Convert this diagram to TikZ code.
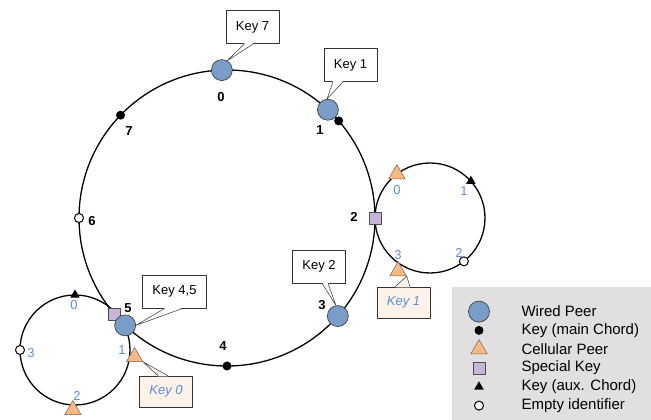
\documentclass[tikz,border=0pt]{standalone}
\usepackage{fontspec}
\setmainfont{Liberation Sans}
\usetikzlibrary{calc,shapes.geometric}
\definecolor{wiredblue}{HTML}{7A9CC8}
\definecolor{cellorange}{HTML}{FBB97F}
\definecolor{speclilac}{HTML}{C8B4D8}
\definecolor{lblblue}{HTML}{5A8ED6}
\definecolor{peach}{HTML}{FDF2E9}
\definecolor{legendgray}{HTML}{E1DFDF}
\tikzset{
	wired/.style={circle, draw=black!80, line width=0.6pt, fill=wiredblue, minimum size=21pt, inner sep=0pt},
	mainkey/.style={circle, fill=black, minimum size=9pt, inner sep=0pt},
	cellular/.style={regular polygon, regular polygon sides=3, draw=black!60, line width=0.5pt, fill=cellorange, minimum size=19pt, inner sep=0pt},
	special/.style={rectangle, draw=black!70, line width=0.5pt, fill=speclilac, minimum size=12pt, inner sep=0pt},
	auxkey/.style={regular polygon, regular polygon sides=3, fill=black, minimum size=11pt, inner sep=0pt},
	emptyid/.style={circle, draw=black, line width=1pt, fill=white, minimum size=9pt, inner sep=0pt},
	ring/.style={line width=1.3pt},
	mainlbl/.style={font=\fontsize{13}{15}\selectfont\bfseries},
	auxlbl/.style={text=lblblue, font=\fontsize{13}{15}\selectfont},
	keybox/.style={rectangle, draw=black!80, line width=0.5pt, fill=white, font=\fontsize{13}{15}\selectfont, minimum height=33pt, inner xsep=10pt},
	mobbox/.style={keybox, fill=peach, text=lblblue, font=\fontsize{13}{15}\selectfont\itshape, minimum height=31pt},
	legtxt/.style={anchor=west, font=\fontsize{15}{17}\selectfont}
}
%% open wedge of a callout: #1 box anchor, #2/#3 base offsets, #4 tip, #5 fill, #6 shift into box
\newcommand{\keywedge}[6]{%
	\fill[#5] ([xshift=#2pt,yshift=#6pt]#1) -- (#4) -- ([xshift=#3pt,yshift=#6pt]#1) -- cycle;
	\draw[draw=black!80, line width=0.5pt] ([xshift=#2pt]#1) -- (#4) -- ([xshift=#3pt]#1);}
\begin{document}
\begin{tikzpicture}[x=1pt, y=1pt, line join=round, line cap=round]
	\useasboundingbox (0,0) rectangle (651,420);
	%% centres of the three rings
	\coordinate (c) at (227,202);
	\coordinate (cl) at (75,70);
	\coordinate (cr) at (430,202);
	\draw[ring] (c) circle (148);
	\draw[ring] (cl) circle (55);
	\draw[ring] (cr) circle (55);
	%% main Chord ring
	\node[wired] (p0) at ($(c)+(92:148)$) {};
	\node[wired] (p1) at ($(c)+(47:148)$) {};
	\node[mainkey] (k1) at ($(c)+(41:148)$) {};
	\node[special] (s2) at ($(c)+(0:148)$) {};
	\node[wired] (p3) at ($(c)+(-41.5:148)$) {};
	\node[mainkey] (k4) at ($(c)+(270:148)$) {};
	\node[special] (s5) at ($(c)+(220.6:148)$) {};
	\node[wired] (p5) at ($(c)+(226.5:148)$) {};
	\node[emptyid] (k6) at ($(c)+(180:148)$) {};
	\node[mainkey] (k7) at ($(c)+(136:148)$) {};
	\node[mainlbl] (l0) at (221,323) {0};
	\node[mainlbl] (l1) at (320,290) {1};
	\node[mainlbl] (l2) at (354,203) {2};
	\node[mainlbl] (l3) at (322,115) {3};
	\node[mainlbl] (l4) at (223,74) {4};
	\node[mainlbl] (l5) at (128,112) {5};
	\node[mainlbl] (l6) at (92,199) {6};
	\node[mainlbl] (l7) at (129,289) {7};
	%% left auxiliary ring
	\node[auxkey] (la0) at ($(cl)+(90:55)$) {};
	\node[cellular] (lm1) at ($(cl)+(-6.7:60)$) {};
	\node[cellular] (lm2) at ($(cl)+(268:60)$) {};
	\node[emptyid] (le3) at ($(cl)+(180:55)$) {};
	\node[auxlbl] (ll0) at (74,115) {0};
	\node[auxlbl] (ll1) at (122,70) {1};
	\node[auxlbl] (ll2) at (77,24) {2};
	\node[auxlbl] (ll3) at (31,67) {3};
	%% right auxiliary ring
	\node[cellular] (rm0) at ($(cr)+(127:55)$) {};
	\node[auxkey] (ra1) at ($(cr)+(42:55)$) {};
	\node[emptyid] (re2) at ($(cr)+(-52:55)$) {};
	\node[cellular] (rm3) at ($(cr)+(239:62)$) {};
	\node[auxlbl] (rl0) at (397,230) {0};
	\node[auxlbl] (rl1) at (464,229) {1};
	\node[auxlbl] (rl2) at (459,167) {2};
	\node[auxlbl] (rl3) at (398,165) {3};
	%% callouts
	\node[keybox] (b7) at (252.5,393) {Key 7};
	\node[keybox] (b1) at (350.5,355) {Key 1};
	\node[keybox] (b2) at (319,153.5) {Key 2};
	\node[keybox] (b45) at (174.5,128.5) {Key 4,5};
	\node[mobbox] (m1) at (403.5,117.5) {Key 1};
	\node[mobbox] (m0) at (166,28.5) {Key 0};
	\keywedge{b7.south}{-8}{1}{p0.60}{white}{0.6}
	\keywedge{b1.south}{-17.5}{-7.5}{p1.95}{white}{0.6}
	\keywedge{b2.south}{3}{9}{p3.100}{white}{0.6}
	\keywedge{b45.south}{-9.5}{8.5}{p5.east}{white}{0.6}
	\keywedge{m1.north}{-8.5}{6.5}{rm3.corner 3}{peach}{-0.6}
	\keywedge{m0.north}{-8}{2}{lm1.corner 3}{peach}{-0.6}
	%% legend
	\fill[legendgray] (452,0) rectangle (651,133);
	\foreach \sty/\txt [count=\i] in {wired/Wired Peer, mainkey/Key (main Chord), cellular/Cellular Peer, special/Special Key, auxkey/Key (aux. Chord), emptyid/Empty identifier}{
		\node[\sty] (sym\i) at (479,{127.2-\i*18.8}) {};
		\node[legtxt] (txt\i) at (518,{127.2-\i*18.8}) {\txt};
	}
\end{tikzpicture}
\end{document}
